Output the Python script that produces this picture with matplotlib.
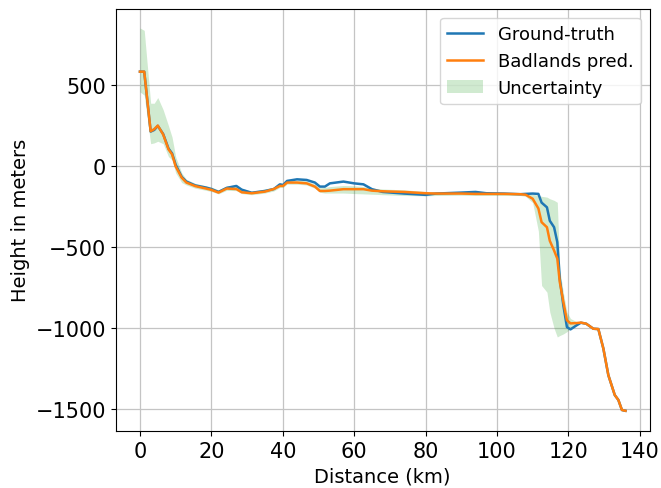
import matplotlib
matplotlib.use("Agg")
import matplotlib.pyplot as plt
import numpy as np

# distance along the transect (km)
dist = [0, 1.2, 3, 4, 5, 6.5, 8, 9, 10, 11.7, 13, 15.5, 18.5, 20, 22, 24.3, 27, 28.5,
        31.3, 35, 37.5, 39.2, 40.1, 41.2, 44, 46.7, 49, 50.4, 51.8, 53.2, 57, 60, 62.6,
        65, 68, 74, 80, 83, 90, 94, 97, 102, 106.5, 108, 110, 111.6, 112.5, 114, 114.8,
        116, 116.9, 117.6, 118.6, 119.6, 120.6, 122.3, 123.5, 125, 127, 128.4, 129.8,
        131.2, 133, 134, 135, 136]

ground_truth = [585, 585, 215, 225, 250, 200, 110, 80, 10, -65, -94, -118, -131, -140,
                -158, -133, -121, -144, -163, -152, -140, -111, -115, -90, -80, -84, -100,
                -125, -125, -105, -94, -105, -111, -141, -158, -168, -176, -168, -162,
                -158, -166, -168, -172, -170, -168, -170, -224, -253, -336, -376, -468,
                -695, -859, -993, -1007, -982, -966, -972, -1003, -1005, -1125, -1290,
                -1413, -1443, -1505, -1510]

badlands = [585, 585, 217, 230, 252, 197, 105, 74, 0, -70, -100, -122, -137, -145,
            -162, -137, -140, -160, -166, -156, -140, -121, -121, -100, -100, -105, -125,
            -152, -152, -150, -141, -141, -141, -150, -154, -158, -166, -168, -168,
            -170, -170, -170, -172, -175, -200, -260, -345, -376, -460, -520, -570,
            -715, -838, -951, -970, -968, -965, -972, -1003, -1005, -1125, -1290,
            -1413, -1443, -1505, -1510]

upper = [855, 840, 390, 390, 425, 350, 250, 180, 60, -40, -80, -105, -120, -128,
         -145, -120, -115, -135, -155, -140, -128, -105, -108, -88, -85, -90, -110,
         -132, -130, -125, -118, -120, -125, -135, -140, -145, -155, -158, -160,
         -162, -163, -165, -165, -165, -172, -180, -185, -190, -200, -210, -222,
         -640, -780, -900, -940, -960, -960, -965, -998, -1000, -1120, -1285,
         -1408, -1438, -1500, -1505]

lower = [460, 440, 140, 145, 155, 140, 60, 40, -40, -100, -115, -135, -148, -155,
         -170, -148, -150, -168, -175, -165, -152, -130, -130, -110, -110, -115, -135,
         -160, -165, -165, -165, -168, -170, -172, -175, -180, -182, -180, -178,
         -180, -180, -180, -180, -185, -224, -400, -736, -777, -900, -1000, -1054,
         -1045, -1035, -1021, -1000, -972, -970, -978, -1008, -1010, -1130, -1295,
         -1418, -1448, -1510, -1515]

fig = plt.figure(figsize=(6.61, 4.89), dpi=100)
ax = fig.add_subplot(111)
fig.subplots_adjust(left=0.175, right=0.983, top=0.98, bottom=0.117)

ax.plot(dist, ground_truth, color='C0', linewidth=1.8, label='Ground-truth')
ax.plot(dist, badlands, color='C1', linewidth=1.8, label='Badlands pred.')
ax.fill_between(dist, lower, upper, color='C2', alpha=0.22, linewidth=0, label='Uncertainty')

ax.grid(True, color='#c4c4c4', linewidth=0.9)
ax.set_axisbelow(True)
ax.tick_params(labelsize=15)
ax.set_xlabel('Distance (km)', fontsize=14)
ax.set_ylabel('Height in meters', fontsize=14)
ax.legend(loc='upper right', fontsize=13)

fig.savefig('out.png', dpi=100)
